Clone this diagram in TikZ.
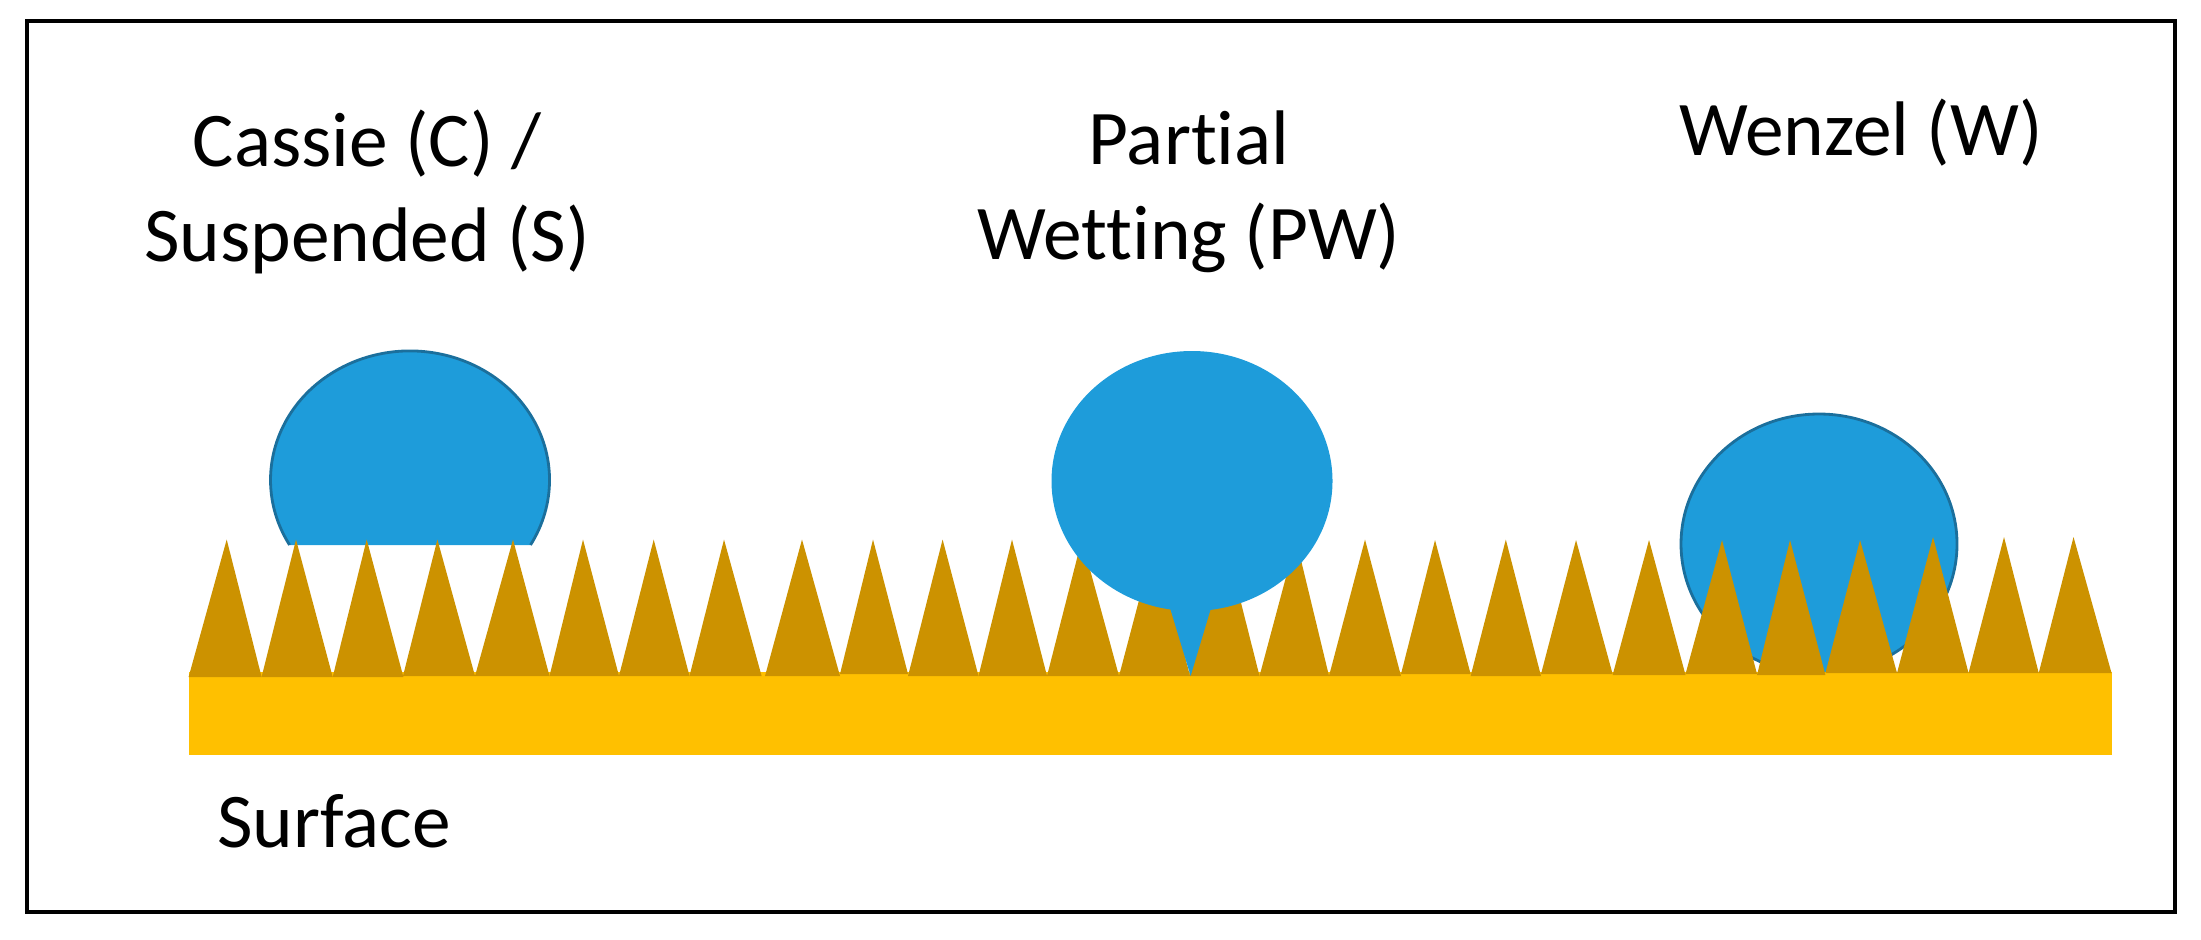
\documentclass[tikz,border=0pt]{standalone}
\usepackage{fontspec}
\setmainfont[Ligatures={NoCommon}]{Carlito}
\definecolor{dropblue}{HTML}{1E9CDA}
\definecolor{dropedge}{HTML}{1B6F9C}
\definecolor{spikebrown}{HTML}{CC9200}
\definecolor{bandyellow}{HTML}{FFC000}

\begin{document}
\begin{tikzpicture}[x=0.01cm,y=0.01cm]
            \tikzstyle{every node}+=[inner sep=0pt]
            \tikzstyle{statelabel}=[font=\fontsize{22}{27}\selectfont,align=center,text=black]
            \tikzstyle{spike}=[fill=spikebrown]
            \useasboundingbox (0,0) rectangle (2201,-939);
            \draw [black,line width=1.3pt] (27,-21) rectangle (2175,-912);
            % cassie drop, sits on the tips
            \fill [dropblue] (289.6,-545) arc (-149.7:-390.3:139.5 and 129) -- cycle;
            \draw [dropedge,line width=0.8pt] (289.6,-545) arc (-149.7:-390.3:139.5 and 129);
            % wenzel drop, goes under the spikes
            \draw [dropedge,fill=dropblue,line width=0.8pt] (1819,-544) ellipse (138 and 130);
            % surface
            \fill [bandyellow] (188.6,-672) rectangle (2111.5,-755);
            \fill [spike] (188.6,-677) -- (226.7,-539.5) -- (261.6,-677) -- cycle;
            \fill [spike] (261.6,-677) -- (296,-539.5) -- (332.7,-677) -- cycle;
            \fill [spike] (332.7,-677) -- (366.7,-539.5) -- (403.4,-677) -- cycle;
            \fill [spike] (403,-676) -- (437.4,-539.5) -- (475,-676) -- cycle;
            \fill [spike] (475,-676) -- (513,-539.5) -- (549.5,-676) -- cycle;
            \fill [spike] (549.5,-676) -- (583,-539.5) -- (619,-676) -- cycle;
            \fill [spike] (619,-676) -- (653.7,-539.5) -- (689.5,-676) -- cycle;
            \fill [spike] (689.5,-676) -- (724,-539.5) -- (761.6,-676) -- cycle;
            \fill [spike] (765,-676) -- (802,-539.5) -- (840,-676) -- cycle;
            \fill [spike] (840,-674) -- (873,-539.5) -- (908,-674) -- cycle;
            \fill [spike] (908,-676) -- (942.6,-539.5) -- (978.5,-676) -- cycle;
            \fill [spike] (978.5,-676) -- (1012,-539.5) -- (1047,-676) -- cycle;
            \fill [spike] (1047,-676) -- (1081.8,-539.5) -- (1119,-676) -- cycle;
            \fill [spike] (1119,-676) -- (1155,-539.5) -- (1190,-676) -- cycle;
            \fill [spike] (1190,-676) -- (1225,-539.5) -- (1259.5,-676) -- cycle;
            \fill [spike] (1259.5,-676) -- (1296,-539.5) -- (1329,-676) -- cycle;
            \fill [spike] (1329,-676) -- (1365,-539.5) -- (1401,-676) -- cycle;
            \fill [spike] (1401,-674) -- (1435,-540) -- (1470.6,-674) -- cycle;
            \fill [spike] (1470.6,-676) -- (1505.8,-539.5) -- (1541,-676) -- cycle;
            \fill [spike] (1541,-674) -- (1576,-540) -- (1612.6,-674) -- cycle;
            \fill [spike] (1612.6,-675) -- (1649,-540) -- (1685.5,-675) -- cycle;
            \fill [spike] (1685.5,-674) -- (1722,-540) -- (1757,-674) -- cycle;
            \fill [spike] (1757,-675) -- (1790,-540) -- (1825.4,-675) -- cycle;
            \fill [spike] (1825.4,-673) -- (1860,-540) -- (1897,-673) -- cycle;
            \fill [spike] (1897,-673) -- (1933,-537) -- (1968.5,-673) -- cycle;
            \fill [spike] (1968.5,-673) -- (2004,-537) -- (2038.7,-673) -- cycle;
            \fill [spike] (2038.7,-673) -- (2073.5,-537) -- (2111.5,-673) -- cycle;
            % partial wetting drop, in front of the spikes
            \fill [dropblue] (1192,-481) ellipse (140.5 and 130);
            \fill [dropblue] (1170,-608) -- (1190.6,-676) -- (1211,-608) -- cycle;
            % labels
            \node [statelabel] (cassie) at (367,-192) {Cassie (C) /\\Suspended (S)};
            \node [statelabel] (partial) at (1189,-192) {Partial\\Wetting (PW)};
            \node [statelabel] (wenzel) at (1861,-133) {Wenzel (W)};
            \node [statelabel] (surface) at (334,-821) {Surface};
            \end{tikzpicture}
\end{document}
